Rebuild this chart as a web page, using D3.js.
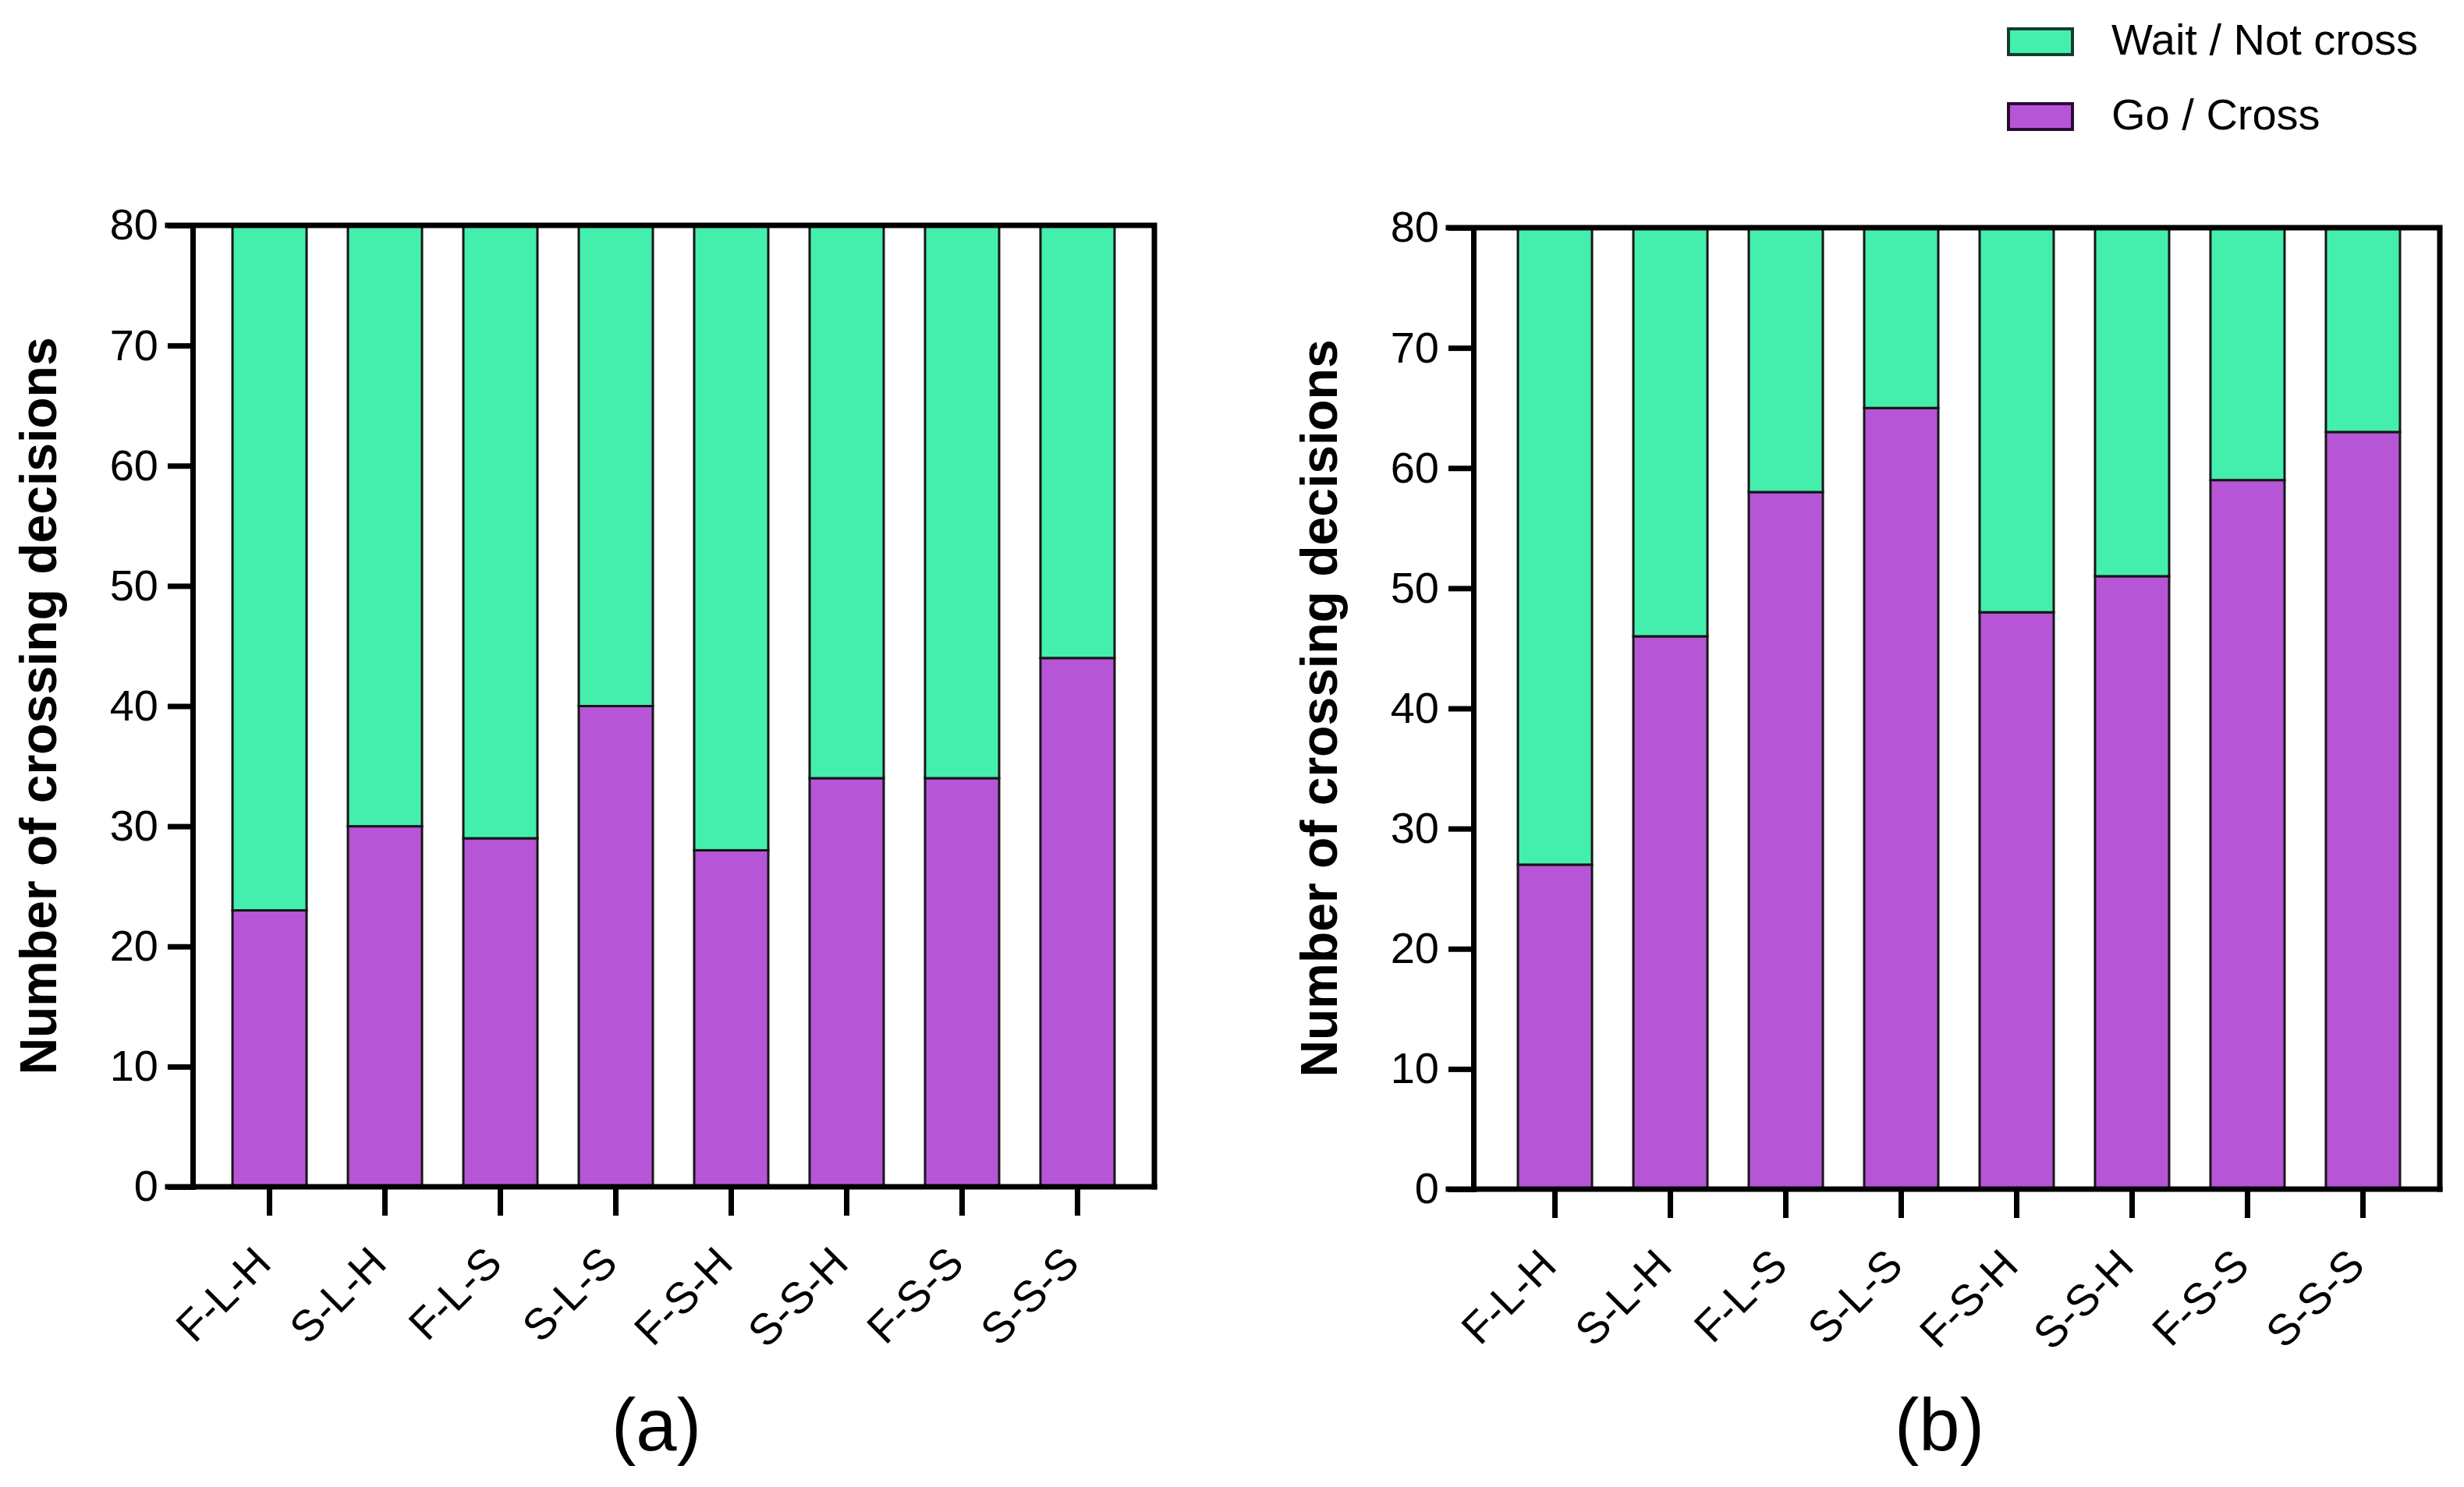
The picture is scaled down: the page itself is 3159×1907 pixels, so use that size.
<!DOCTYPE html>
<html>
<head>
<meta charset="utf-8">
<script src="https://cdn.jsdelivr.net/npm/d3@7"></script>
<style>
  body { margin: 0; background: #fff; }
  text { font-family: "Liberation Sans", Arial, sans-serif; fill: #000; }
</style>
</head>
<body>
<div id="chart"></div>
<script>
// data
const categories = ['F-L-H', 'S-L-H', 'F-L-S', 'S-L-S', 'F-S-H', 'S-S-H', 'F-S-S', 'S-S-S'];
const goA = [23, 30, 29, 40, 28, 34, 34, 44];
const waitA = [57, 50, 51, 40, 52, 46, 46, 36];
const goB = [27, 46, 58, 65, 48, 51, 59, 63];
const waitB = [53, 34, 22, 15, 32, 29, 21, 17];
const yTicks = [0, 10, 20, 30, 40, 50, 60, 70, 80];
const seriesNames = ['Wait / Not cross', 'Go / Cross'];
const panelLabels = ['(a)', '(b)'];
const yTitle = 'Number of crossing decisions';

const width = 3159, height = 1907;
const colors = { go: '#b755d7', wait: '#44efad' };
const edge = { go: '#2a0c33', wait: '#123d2c' };
const axisW = 7;

const svg = d3.select('#chart').append('svg')
  .attr('width', width)
  .attr('height', height);
svg.append('rect').attr('width', width).attr('height', height).attr('fill', '#fff');

const drawPanel = (go, wait, box, label) => {
  const { x0, x1, y0, y1, bx0 = x0 } = box;
  const rows = categories.map((c, i) => ({ cat: c, go: go[i], wait: wait[i] }));

  const x = d3.scaleBand().domain(categories).range([bx0, x1])
    .paddingInner(0.358).paddingOuter(0.345);
  const y = d3.scaleLinear().domain([0, 80]).range([y1, y0]);

  const stacked = d3.stack().keys(['go', 'wait'])(rows);
  const g = svg.append('g');

  g.selectAll('g.layer').data(stacked).enter().append('g')
    .attr('class', 'layer')
    .attr('fill', d => colors[d.key])
    .selectAll('rect').data(d => d).enter().append('rect')
    .attr('x', d => x(d.data.cat))
    .attr('width', x.bandwidth())
    .attr('y', d => y(d[1]))
    .attr('height', d => y(d[0]) - y(d[1]))
    .attr('stroke', '#161616')
    .attr('stroke-width', 3);

  // frame: top + right lines
  g.append('path')
    .attr('d', `M${x0 - 32},${y0}H${x1}V${y1}`)
    .attr('fill', 'none').attr('stroke', '#000')
    .attr('stroke-width', axisW).attr('stroke-linecap', 'square');

  // y axis
  const ya = g.append('g').attr('transform', `translate(${x0},0)`)
    .call(d3.axisLeft(y).tickValues(yTicks).tickSize(32).tickSizeOuter(0).tickPadding(12));
  ya.select('.domain').attr('stroke-width', axisW).attr('stroke-linecap', 'square');
  ya.selectAll('.tick line').attr('stroke-width', axisW);
  ya.selectAll('.tick text').attr('font-size', 56).attr('fill', '#000');

  // x axis
  const xa = g.append('g').attr('transform', `translate(0,${y1})`)
    .call(d3.axisBottom(x).tickSize(37).tickSizeOuter(0));
  xa.select('.domain').remove();
  xa.selectAll('.tick line').attr('stroke-width', axisW);
  xa.selectAll('.tick text')
    .attr('font-size', 56).attr('fill', '#000')
    .attr('text-anchor', 'end')
    .attr('dy', '0.35em')
    .attr('y', 0)
    .attr('transform', 'translate(-9,87) rotate(-45)');
  g.append('line')
    .attr('x1', x0 - 32).attr('x2', x1)
    .attr('y1', y1).attr('y2', y1)
    .attr('stroke', '#000').attr('stroke-width', axisW).attr('stroke-linecap', 'square');

  // y title
  g.append('text')
    .attr('transform', `translate(${x0 - 175},${(y0 + y1) / 2}) rotate(-90)`)
    .attr('text-anchor', 'middle')
    .attr('font-size', 66)
    .attr('font-weight', 'bold')
    .text(yTitle);

  // panel label
  g.append('text')
    .attr('x', (x0 + x1) / 2 - 22)
    .attr('y', 1860)
    .attr('text-anchor', 'middle')
    .attr('font-size', 94)
    .text(label);
};

drawPanel(goA, waitA, { x0: 247, x1: 1480, y0: 289, y1: 1522 }, panelLabels[0]);
drawPanel(goB, waitB, { x0: 1889, bx0: 1895, x1: 3128, y0: 292, y1: 1525 }, panelLabels[1]);

// legend
const legend = svg.append('g').attr('transform', 'translate(2575,37)');
const legKeys = ['wait', 'go'];
legend.selectAll('rect').data(legKeys).enter().append('rect')
  .attr('x', 0)
  .attr('y', (d, i) => i * 96)
  .attr('width', 82)
  .attr('height', 33)
  .attr('fill', d => colors[d])
  .attr('stroke', d => edge[d])
  .attr('stroke-width', 4);
legend.selectAll('text').data(seriesNames).enter().append('text')
  .attr('x', 132)
  .attr('y', (d, i) => 33 + i * 96)
  .attr('font-size', 56)
  .text(d => d);
</script>
</body>
</html>
